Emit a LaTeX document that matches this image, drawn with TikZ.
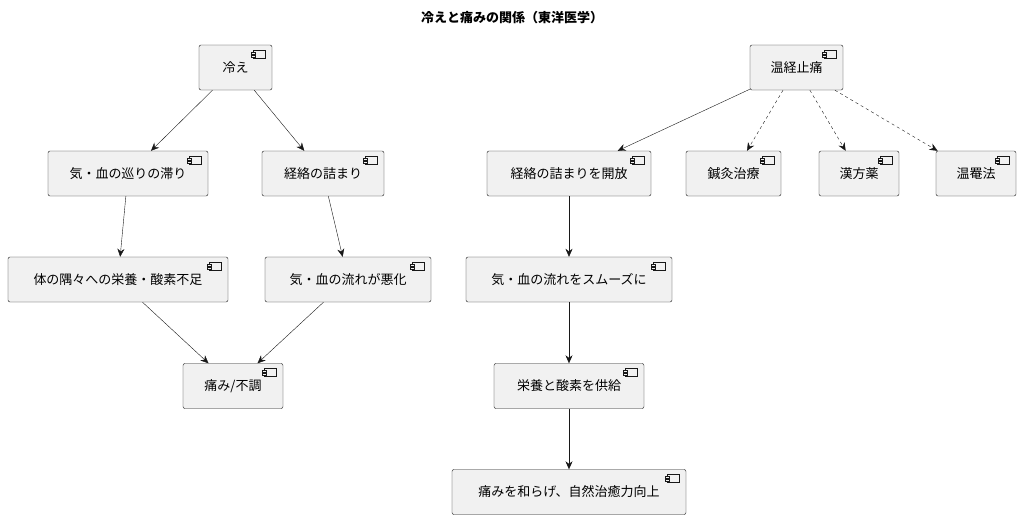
\documentclass[tikz,border=0pt]{standalone}
\usepackage{fontspec}
\setmainfont{Noto Sans CJK JP}
\usetikzlibrary{arrows.meta}
\definecolor{compfill}{RGB}{241,241,241}
\definecolor{compline}{RGB}{24,24,24}
\tikzset{
	comp/.style={draw=compline, fill=compfill, rounded corners=2pt, minimum height=45pt, inner sep=0, font=\fontsize{13}{15}\selectfont},
	flow/.style={-{Stealth[length=8pt,width=7pt]}, draw=compline, thin},
	weak/.style={flow, dashed}
}
% small component icon in the upper right corner
\newcommand{\compicon}[1]{%
	\begin{scope}[shift={(#1.north east)}]
		\draw[compline, fill=compfill, line width=0.4pt] (-19,5) rectangle (-7,13);
		\draw[compline, fill=compfill, line width=0.4pt] (-21,7) rectangle (-17,9);
		\draw[compline, fill=compfill, line width=0.4pt] (-21,10) rectangle (-17,12);
	\end{scope}%
}
\begin{document}
\begin{tikzpicture}[x=1pt, y=-1pt]
	\useasboundingbox (0,0) rectangle (1021,520);
	\node[font=\bfseries\fontsize{13}{15}\selectfont] (title) at (512,18) {冷えと痛みの関係（東洋医学）};
	
	% left branch
	\node[comp, minimum width=73] (hie) at (235.5,67.5) {冷え};
	\node[comp, minimum width=160] (taidai) at (128,173.5) {気・血の巡りの滞り};
	\node[comp, minimum width=122] (tsumari) at (323,173.5) {経絡の詰まり};
	\node[comp, minimum width=220] (fusoku) at (118,279.5) {体の隅々への栄養・酸素不足};
	\node[comp, minimum width=166] (akka) at (348,279.5) {気・血の流れが悪化};
	\node[comp, minimum width=100] (itami) at (233,386) {痛み/不調};
	
	% right branch
	\node[comp, minimum width=93] (onkei) at (796.5,67.5) {温経止痛};
	\node[comp, minimum width=164] (kaiho) at (569,173.5) {経絡の詰まりを開放};
	\node[comp, minimum width=95] (shinkyu) at (733.5,173.5) {鍼灸治療};
	\node[comp, minimum width=80] (kampo) at (859,173.5) {漢方薬};
	\node[comp, minimum width=80] (anpo) at (976,173.5) {温罨法};
	\node[comp, minimum width=206] (smooth) at (569,279.5) {気・血の流れをスムーズに};
	\node[comp, minimum width=150] (kyokyu) at (569,386) {栄養と酸素を供給};
	\node[comp, minimum width=234] (chiyu) at (569,492) {痛みを和らげ、自然治癒力向上};
	
	\foreach \n in {hie,taidai,tsumari,fusoku,akka,itami,onkei,kaiho,shinkyu,kampo,anpo,smooth,kyokyu,chiyu}{
		\compicon{\n}
	}
	
	\draw[flow] (hie) -- (taidai);
	\draw[flow] (hie) -- (tsumari);
	\draw[flow] (taidai) -- (fusoku);
	\draw[flow] (tsumari) -- (akka);
	\draw[flow] (fusoku) -- (itami);
	\draw[flow] (akka) -- (itami);
	
	\draw[flow] (onkei) -- (kaiho);
	\draw[weak] (onkei) -- (shinkyu);
	\draw[weak] (onkei) -- (kampo);
	\draw[weak] (onkei) -- (anpo);
	\draw[flow] (kaiho) -- (smooth);
	\draw[flow] (smooth) -- (kyokyu);
	\draw[flow] (kyokyu) -- (chiyu);
\end{tikzpicture}
\end{document}
